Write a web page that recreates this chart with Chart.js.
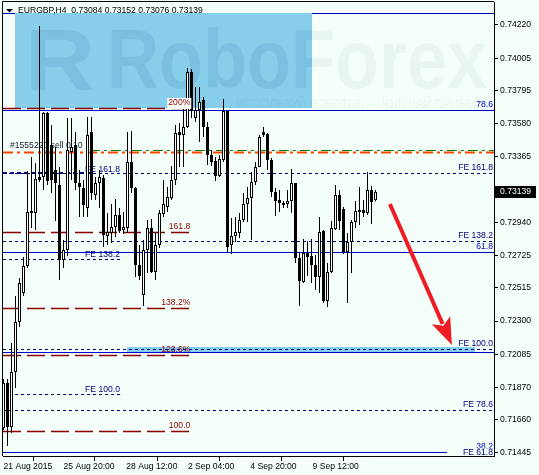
<!DOCTYPE html>
<html>
<head>
<meta charset="utf-8">
<title>EURGBP,H4</title>
<script src="https://cdn.jsdelivr.net/npm/chart.js@4.4.1/dist/chart.umd.min.js"></script>
<style>
  html, body { margin: 0; padding: 0; background: #f5fffa; }
  canvas { display: block; }
</style>
</head>
<body>
<canvas id="chart" width="539" height="475"></canvas>
<script>
// EURGBP H4 candles, oldest first
const openPrices = [
  0.71607, 0.71899, 0.71613, 0.71970, 0.72294, 0.72482, 0.72657, 0.73014, 0.73001, 0.73234,
  0.73234, 0.73649, 0.73442, 0.73280, 0.73183, 0.72696, 0.72761, 0.73397, 0.73442, 0.73196,
  0.73163, 0.73033, 0.73526, 0.73118, 0.73196, 0.73228, 0.72852, 0.72871, 0.72910, 0.72988,
  0.72891, 0.72904, 0.73332, 0.73163, 0.72664, 0.72469, 0.72761, 0.72904, 0.72619, 0.72794,
  0.72995, 0.73040, 0.73098, 0.73215, 0.73526, 0.73507, 0.73559, 0.73915, 0.73617, 0.73669,
  0.73734, 0.73559, 0.73377, 0.73338, 0.73241, 0.73345, 0.73662, 0.72794, 0.72852, 0.72871,
  0.72956, 0.73059, 0.73098, 0.73202, 0.73299, 0.73526, 0.73513, 0.73345, 0.73137, 0.73085,
  0.73066, 0.73059, 0.73079, 0.73196, 0.72709, 0.72554, 0.72742, 0.72722, 0.72664, 0.72586,
  0.72884, 0.72430, 0.72619, 0.72897, 0.73118, 0.73027, 0.72748, 0.72813, 0.72943, 0.73020,
  0.73020, 0.73001, 0.73150, 0.73084
];
const highPrices = [
  0.71925, 0.71925, 0.72158, 0.72463, 0.72580, 0.72716, 0.73273, 0.73364, 0.73325, 0.74214,
  0.73656, 0.73656, 0.73572, 0.73429, 0.73299, 0.72826, 0.73617, 0.73617, 0.73526, 0.73280,
  0.73215, 0.73624, 0.73624, 0.73234, 0.73280, 0.73247, 0.73001, 0.73059, 0.73092, 0.73033,
  0.73008, 0.73526, 0.73533, 0.73170, 0.72794, 0.72826, 0.72956, 0.72962, 0.72871, 0.73020,
  0.73215, 0.73170, 0.73306, 0.73572, 0.73585, 0.73714, 0.73941, 0.73935, 0.73818, 0.73818,
  0.73753, 0.73591, 0.73410, 0.73364, 0.73377, 0.73740, 0.73669, 0.72969, 0.72975, 0.73001,
  0.73131, 0.73170, 0.73267, 0.73332, 0.73507, 0.73559, 0.73520, 0.73358, 0.73163, 0.73150,
  0.73079, 0.73150, 0.73286, 0.73196, 0.72742, 0.72832, 0.72819, 0.72832, 0.72729, 0.72975,
  0.72891, 0.72677, 0.72949, 0.73183, 0.73150, 0.73040, 0.72871, 0.72956, 0.73079, 0.73170,
  0.73085, 0.73267, 0.73176, 0.73152
];
const lowPrices = [
  0.71594, 0.71490, 0.71575, 0.71866, 0.72262, 0.72463, 0.72644, 0.72904, 0.72891, 0.73202,
  0.73150, 0.73183, 0.73131, 0.72949, 0.72567, 0.72644, 0.72722, 0.73215, 0.73150, 0.72975,
  0.72975, 0.72975, 0.73085, 0.73085, 0.73033, 0.72781, 0.72794, 0.72806, 0.72845, 0.72871,
  0.72865, 0.72871, 0.73131, 0.72586, 0.72567, 0.72398, 0.72612, 0.72612, 0.72567, 0.72774,
  0.72975, 0.73008, 0.73085, 0.73183, 0.73299, 0.73299, 0.73552, 0.73617, 0.73591, 0.73461,
  0.73494, 0.73312, 0.73306, 0.73208, 0.73234, 0.73332, 0.72748, 0.72735, 0.72813, 0.72839,
  0.72943, 0.72943, 0.72826, 0.73183, 0.73299, 0.73494, 0.73280, 0.73105, 0.72982, 0.73008,
  0.73033, 0.73033, 0.73001, 0.72677, 0.72398, 0.72547, 0.72593, 0.72547, 0.72502, 0.72482,
  0.72418, 0.72392, 0.72612, 0.72891, 0.72891, 0.72735, 0.72418, 0.72612, 0.72904, 0.72923,
  0.72975, 0.72988, 0.72930, 0.73076
];
const closePrices = [
  0.71899, 0.71613, 0.71970, 0.72294, 0.72547, 0.72657, 0.73008, 0.73001, 0.73221, 0.73215,
  0.73649, 0.73208, 0.73215, 0.73196, 0.72696, 0.72761, 0.73410, 0.73429, 0.73196, 0.73170,
  0.73053, 0.73507, 0.73131, 0.73196, 0.73234, 0.72858, 0.72878, 0.72910, 0.72988, 0.72884,
  0.72910, 0.73332, 0.73163, 0.72664, 0.72593, 0.72761, 0.72904, 0.72619, 0.72794, 0.73001,
  0.73059, 0.73105, 0.73215, 0.73520, 0.73507, 0.73559, 0.73915, 0.73662, 0.73669, 0.73721,
  0.73559, 0.73377, 0.73332, 0.73241, 0.73351, 0.73662, 0.72781, 0.72852, 0.72878, 0.72956,
  0.73059, 0.73098, 0.73202, 0.73299, 0.73494, 0.73507, 0.73345, 0.73137, 0.73079, 0.73066,
  0.73053, 0.73079, 0.73196, 0.72709, 0.72560, 0.72742, 0.72716, 0.72664, 0.72586, 0.72878,
  0.72430, 0.72619, 0.72904, 0.73118, 0.72949, 0.72748, 0.72813, 0.72943, 0.73014, 0.73008,
  0.73001, 0.73150, 0.73072, 0.73139
];
const lastPrice = 0.73139;
const headerText = "EURGBP,H4  0.73084 0.73152 0.73076 0.73139";

// axes
const yTickValues = [0.74220, 0.74005, 0.73795, 0.73580, 0.73365, 0.72940, 0.72725,
                     0.72515, 0.72300, 0.72085, 0.71870, 0.71660, 0.71445];
const xTickLabels = ["21 Aug 2015", "25 Aug 20:00", "28 Aug 12:00", "2 Sep 04:00", "4 Sep 20:00", "9 Sep 12:00"];
const xTickBars = [0, 15, 30.7, 46.1, 61.7, 77.25];

// chart objects (price levels, bar positions)
const topLevel = 0.74298;
const retraceLevels = [0.73669, 0.72746, 0.72100];
const retraceLabels = ["78.6", "61.8", ""];
const feLevels = [0.73260, 0.72820, 0.72117, 0.71724];
const feLabels = ["FE 161.8", "FE 138.2", "FE 100.0", "FE 78.6"];
const bottomLevel = 0.71450;
const bottomLabels = ["38.2", "FE 61.8"];
const percentLevels = [0.73680, 0.72878, 0.72383, 0.72078, 0.71588];
const percentLabels = ["200%", "161.8", "138.2%", "123.6%", "100.0"];
const percentEndBar = 46.7;
const feLeftLevels = [0.73260, 0.72701, 0.71826];
const feLeftLabels = ["FE 161.8", "FE 138.2", "FE 100.0"];
const feLeftStartBar = [-0.125, -0.125, 2.9];
const feLeftEndBar = [21.7, 29.2, 29.2];
const feLeftLabelBar = 20.4;
const orderLevel = 0.73397;
const orderTpLevel = 0.73406;
const orderTpStartBar = 21.6;
const orderLabel = "#1555220 sell 0.10";
const boxBars = [2.9, 77];
const boxPrices = [0.74298, 0.73682];
const zoneBars = [30.9, 117.9];
const zonePrices = [0.72134, 0.72101];
const arrowBars = [96.6, 112.1];
const arrowPrices = [0.73059, 0.72145];

const BG = "#f5fffa";
const NAVY = "#000080";
const BLUE = "#0000cd";
const DARKRED = "#8b0000";
const FONT = "8.6px 'Liberation Sans', Arial, sans-serif";

const bars = openPrices.map((_, i) => i);
const wickData = bars.map(i => ({ x: i, y: [lowPrices[i], highPrices[i]] }));
const bodyData = bars.map(i => ({ x: i, y: [openPrices[i], closePrices[i]] }));
const bodyColors = bars.map(i => (closePrices[i] >= openPrices[i] ? "#ffffff" : "#000000"));

function hLine(ctx, x0, x1, yy, color, width, dash) {
  ctx.save();
  ctx.strokeStyle = color;
  ctx.lineWidth = width;
  ctx.setLineDash(dash);
  ctx.beginPath();
  ctx.moveTo(x0, yy);
  ctx.lineTo(x1, yy);
  ctx.stroke();
  ctx.restore();
}

function label(ctx, str, xx, yy, color, align, bg) {
  ctx.font = FONT;
  ctx.textAlign = align;
  ctx.textBaseline = "middle";
  if (bg) {
    const w = ctx.measureText(str).width;
    const l = align === "right" ? xx - w : xx;
    ctx.fillStyle = bg;
    ctx.fillRect(l - 1, yy - 5, w + 2, 11);
  }
  ctx.fillStyle = color;
  ctx.fillText(str, xx, yy);
}

function watermark(ctx, str, font, left, base, width, color) {
  ctx.save();
  ctx.font = font;
  ctx.textAlign = "left";
  ctx.textBaseline = "alphabetic";
  const w = ctx.measureText(str).width;
  ctx.translate(left, base);
  ctx.scale(width / w, 1);
  ctx.fillStyle = color;
  ctx.fillText(str, 0, 0);
  ctx.restore();
}

const mt4Objects = {
  id: "mt4Objects",
  beforeDraw(chart) {
    const { ctx, width, height } = chart;
    ctx.save();
    ctx.fillStyle = BG;
    ctx.fillRect(0, 0, width, height);
    ctx.restore();
  },
  beforeDatasetsDraw(chart) {
    const { ctx, chartArea: a, scales: { x, y } } = chart;
    const px = v => x.getPixelForValue(v);
    const py = v => Math.round(y.getPixelForValue(v)) + 0.5;
    ctx.save();
    ctx.beginPath();
    ctx.rect(a.left, a.top, a.right - a.left, a.bottom - a.top);
    ctx.clip();

    hLine(ctx, a.left, a.right, py(topLevel), BLUE, 1, []);

    // blue rectangle
    const bx0 = Math.round(px(boxBars[0])), bx1 = Math.round(px(boxBars[1]));
    const by0 = Math.round(y.getPixelForValue(boxPrices[0])), by1 = Math.round(y.getPixelForValue(boxPrices[1]));
    ctx.fillStyle = "#87ceeb";
    ctx.fillRect(bx0, by0, bx1 - bx0, by1 - by0);

    // watermark (faint over the background, a bit darker over the rectangle)
    ctx.save();
    ctx.beginPath();
    ctx.rect(bx0, by0, bx1 - bx0, by1 - by0);
    ctx.clip();
    watermark(ctx, "R", "bold 88px 'Liberation Sans', Arial, sans-serif", a.left + 22, a.top + 88, 70, "rgba(40, 110, 160, 0.13)");
    watermark(ctx, "RoboForex", "bold 84px 'Liberation Sans', Arial, sans-serif", a.left + 104, a.top + 86, 380, "rgba(40, 110, 160, 0.13)");
    ctx.restore();
    ctx.save();
    ctx.beginPath();
    ctx.rect(bx1, a.top, a.right - bx1, by1 - a.top);
    ctx.clip();
    watermark(ctx, "RoboForex", "bold 84px 'Liberation Sans', Arial, sans-serif", a.left + 104, a.top + 86, 380, "rgba(40, 90, 110, 0.06)");
    ctx.restore();
    watermark(ctx, "ИСПОЛЬЗУЙ РОБОТОВ – ПОЛУЧАЙ ПРИБЫЛЬ", "13px 'Liberation Sans', Arial, sans-serif",
      a.left + 233, a.top + 106, 255, "rgba(40, 90, 120, 0.06)");

    // highlighted zone
    const zx0 = Math.round(px(zoneBars[0])), zx1 = Math.round(px(zoneBars[1]));
    const zy0 = Math.round(y.getPixelForValue(zonePrices[0])), zy1 = Math.round(y.getPixelForValue(zonePrices[1]));
    ctx.fillStyle = "#87ceeb";
    ctx.fillRect(zx0, zy0, zx1 - zx0, zy1 - zy0);

    // blue retracement lines
    retraceLevels.forEach((p, i) => {
      hLine(ctx, a.left, a.right, py(p), BLUE, 1, []);
      if (retraceLabels[i]) label(ctx, retraceLabels[i], a.right - 1, py(p) - 6, BLUE, "right");
    });
    hLine(ctx, a.left, a.right - 47, py(bottomLevel), BLUE, 1, []);

    // FE dashed lines full width
    feLevels.forEach((p, i) => {
      hLine(ctx, a.left, a.right, py(p), NAVY, 1, [3, 3]);
      label(ctx, feLabels[i], a.right - 1, py(p) - 6, NAVY, "right");
    });

    // FE dashed lines on the left
    feLeftLevels.forEach((p, i) => {
      const thick = i === 0;
      hLine(ctx, px(feLeftStartBar[i]), px(feLeftEndBar[i]), thick ? Math.round(y.getPixelForValue(p)) : py(p),
        NAVY, thick ? 2 : 1, thick ? [4, 3] : [3, 3]);
      label(ctx, feLeftLabels[i], px(feLeftLabelBar), py(p) - (i === 0 ? 4 : 5), NAVY, "left");
    });

    // percent expansion lines (dark red dashed)
    percentLevels.forEach((p) => {
      hLine(ctx, a.left, px(percentEndBar), py(p), DARKRED, 1.4, [18, 6]);
    });

    // order line
    const oy = Math.round(y.getPixelForValue(orderLevel));
    hLine(ctx, a.left, a.right, oy + 0.5, "#ff4500", 2, [10, 4, 3, 4]);
    hLine(ctx, px(orderTpStartBar), a.right, Math.round(y.getPixelForValue(orderTpLevel)) - 0.5, "#008000", 1, [10, 4, 3, 4]);
    label(ctx, orderLabel, a.left + 7, oy - 6, "#1a1a2a", "left");

    // bottom labels
    label(ctx, bottomLabels[0], a.right - 1, py(bottomLevel) - 6, BLUE, "right");
    ctx.font = FONT;
    const fw = ctx.measureText(bottomLabels[1]).width;
    ctx.fillStyle = BG;
    ctx.fillRect(a.right - 2 - fw, py(bottomLevel) - 4, fw + 2, 9);
    label(ctx, bottomLabels[1], a.right - 1, py(bottomLevel), NAVY, "right");

    ctx.restore();
  },
  afterDatasetsDraw(chart) {
    const { ctx, chartArea: a, scales: { x, y } } = chart;
    const px = v => x.getPixelForValue(v);
    const py = v => Math.round(y.getPixelForValue(v)) + 0.5;
    ctx.save();

    // percent labels sit on top of the candles
    percentLevels.forEach((p, i) => {
      label(ctx, percentLabels[i], px(percentEndBar), py(p) - 5.5, DARKRED, "right", i === 0 ? "#ffffff" : null);
    });

    // red arrow
    const x0 = px(arrowBars[0]), y0 = y.getPixelForValue(arrowPrices[0]);
    const x1 = px(arrowBars[1]), y1 = y.getPixelForValue(arrowPrices[1]);
    const len = Math.hypot(x1 - x0, y1 - y0);
    const ux = (x1 - x0) / len, uy = (y1 - y0) / len;
    const hl = 27, hw = 10;
    const bx = x1 - ux * hl, by = y1 - uy * hl;
    ctx.strokeStyle = "#ee1c25";
    ctx.fillStyle = "#ee1c25";
    ctx.lineWidth = 4;
    ctx.beginPath();
    ctx.moveTo(x0, y0);
    ctx.lineTo(bx + ux * 4, by + uy * 4);
    ctx.stroke();
    ctx.beginPath();
    ctx.moveTo(x1, y1);
    ctx.lineTo(bx - uy * hw, by + ux * hw);
    ctx.lineTo(bx + ux * 6, by + uy * 6);
    ctx.lineTo(bx + uy * hw, by - ux * hw);
    ctx.closePath();
    ctx.fill();

    // header
    ctx.fillStyle = "#000";
    ctx.beginPath();
    ctx.moveTo(a.left + 3, a.top + 7);
    ctx.lineTo(a.left + 10, a.top + 7);
    ctx.lineTo(a.left + 6.5, a.top + 10.5);
    ctx.closePath();
    ctx.fill();
    label(ctx, headerText, a.left + 15, a.top + 8.5, "#000", "left");

    // left and top frame
    ctx.strokeStyle = "#000";
    ctx.lineWidth = 1;
    ctx.beginPath();
    ctx.moveTo(a.left - 0.5, a.bottom);
    ctx.lineTo(a.left - 0.5, a.top - 0.5);
    ctx.lineTo(a.right, a.top - 0.5);
    ctx.stroke();
    ctx.restore();
  },
  afterDraw(chart) {
    const { ctx, chartArea: a, scales: { y } } = chart;
    const yy = Math.round(y.getPixelForValue(lastPrice));
    ctx.save();
    ctx.fillStyle = "#000";
    ctx.fillRect(a.right + 1, yy - 6, 41, 12);
    label(ctx, lastPrice.toFixed(5), a.right + 6, yy, "#fff", "left");
    ctx.restore();
  }
};

new Chart(document.getElementById("chart"), {
  type: "bar",
  data: {
    datasets: [
      {
        label: "body",
        data: bodyData,
        backgroundColor: bodyColors,
        borderColor: "#000000",
        borderWidth: 1,
        borderSkipped: false,
        inflateAmount: 0,
        barThickness: 3,
        grouped: false,
        order: 0,
      },
      {
        label: "wick",
        data: wickData,
        backgroundColor: "#000000",
        borderWidth: 0,
        inflateAmount: 0,
        barThickness: 1,
        grouped: false,
        order: 1,
      },
    ],
  },
  options: {
    responsive: false,
    devicePixelRatio: 1,
    animation: false,
    events: [],
    layout: { padding: { left: 3, top: 2, right: 0, bottom: 0 } },
    plugins: { legend: { display: false }, tooltip: { enabled: false } },
    scales: {
      x: {
        type: "linear",
        min: -0.125,
        max: 122.625,
        offset: false,
        afterBuildTicks: (scale) => { scale.ticks = xTickBars.map(v => ({ value: v })); },
        afterFit: (scale) => { scale.height = 19; scale.paddingLeft = 0; scale.paddingRight = 0; },
        grid: { display: true, drawOnChartArea: false, drawTicks: true, tickLength: 5, color: "#000" },
        border: { display: true, color: "#000" },
        ticks: {
          autoSkip: false,
          maxRotation: 0,
          align: "start",
          padding: 0,
          color: "#000",
          font: { family: "'Liberation Sans', Arial, sans-serif", size: 8.6 },
          callback: (value, index) => xTickLabels[index],
        },
      },
      y: {
        type: "linear",
        position: "right",
        min: 0.714254,
        max: 0.743691,
        afterBuildTicks: (scale) => { scale.ticks = yTickValues.map(v => ({ value: v })); },
        afterFit: (scale) => { scale.width = 45; scale.paddingTop = 0; scale.paddingBottom = 0; },
        grid: { display: true, drawOnChartArea: false, drawTicks: true, tickLength: 4, color: "#000" },
        border: { display: true, color: "#000" },
        ticks: {
          autoSkip: false,
          padding: 2,
          color: "#000",
          font: { family: "'Liberation Sans', Arial, sans-serif", size: 8.6 },
          callback: (value) => Number(value).toFixed(5),
        },
      },
    },
  },
  plugins: [mt4Objects],
});
</script>
</body>
</html>
